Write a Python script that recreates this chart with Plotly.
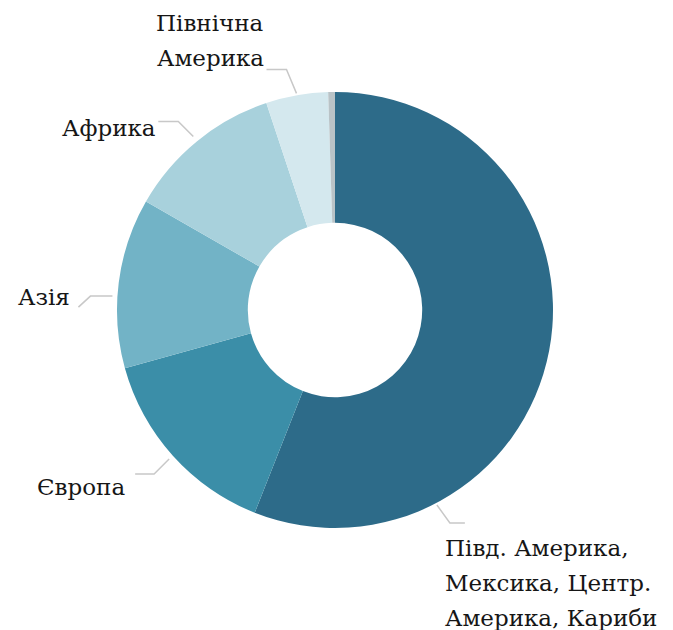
import math
import plotly.graph_objects as go

labels = ["Півд. Америка,<br>Мексика, Центр.<br>Америка, Кариби", "Європа", "Азія", "Африка",
          "Північна<br>Америка", "Інше"]
values = [56.0, 14.7, 12.6, 11.6, 4.6, 0.5]
colors = ["#2d6b89", "#3b8ea8", "#72b3c6", "#a8d1dc", "#d4e8ee", "#b9c3c7"]

W, H = 673, 630
OFF = 8  # page body margin
CX, CY, R = 335, 310, 218
LINE_H = 35

def px(x):
    return (x - OFF) / W

def py(y):
    return 1 - (y - OFF) / H

fig = go.Figure(go.Pie(
    labels=labels, values=values, sort=False, direction="clockwise", rotation=0,
    hole=0.4, marker=dict(colors=colors, line=dict(color="white", width=0)),
    textinfo="none", hoverinfo="label+percent", showlegend=False,
    domain=dict(x=[px(CX - R), px(CX + R)], y=[py(CY + R), py(CY - R)]),
))

# label anchor (pixels, first line centre), anchor side, alignment
label_pos = [
    (443, 548, "left"),
    (127, 487, "right"),
    (72, 297, "right"),
    (158, 128, "right"),
    (210, 23, "center"),
    None,
]
# leader offsets relative to start point on the ring (pixels)
leaders = [
    [(13, 18), (28, 18)],
    [(-15, 15), (-34, 15)],
    [(-22, 0), (-34, 11)],
    [(-15, -15), (-35, -15)],
    [(-10, -24), (-30, -24)],
    None,
]
frac_in_slice = [0.756, 0.5, 0.42, 0.5, 0.5, 0.5]
gaps = [2, 5, 5, 6, 2, 0]

total = sum(values)
cum = 0
font = dict(family="DejaVu Serif, serif", size=23, color="#161616")
for i, v in enumerate(values):
    start = cum / total * 360
    cum += v
    end = cum / total * 360
    if label_pos[i] is None:
        continue
    ang = start + (end - start) * frac_in_slice[i]
    x, y, anchor = label_pos[i]
    for k, line in enumerate(labels[i].split("<br>")):
        fig.add_annotation(x=px(x), y=py(y + k * LINE_H), xref="paper", yref="paper", text=line,
                           showarrow=False, xanchor=anchor, yanchor="middle", align="left",
                           font=font)
    a = math.radians(ang)
    rr = R + gaps[i]
    sx, sy = CX + rr * math.sin(a), CY - rr * math.cos(a)
    pts = [(sx, sy)] + [(sx + dx, sy + dy) for dx, dy in leaders[i]]
    path = "M " + " L ".join(f"{px(p[0])} {py(p[1])}" for p in pts)
    fig.add_shape(type="path", xref="paper", yref="paper", path=path,
                  line=dict(color="#c8c8c8", width=1.5))

fig.update_layout(width=W, height=H, margin=dict(l=0, r=0, t=0, b=0),
                  paper_bgcolor="white", plot_bgcolor="white")
fig.write_html("out.html")
